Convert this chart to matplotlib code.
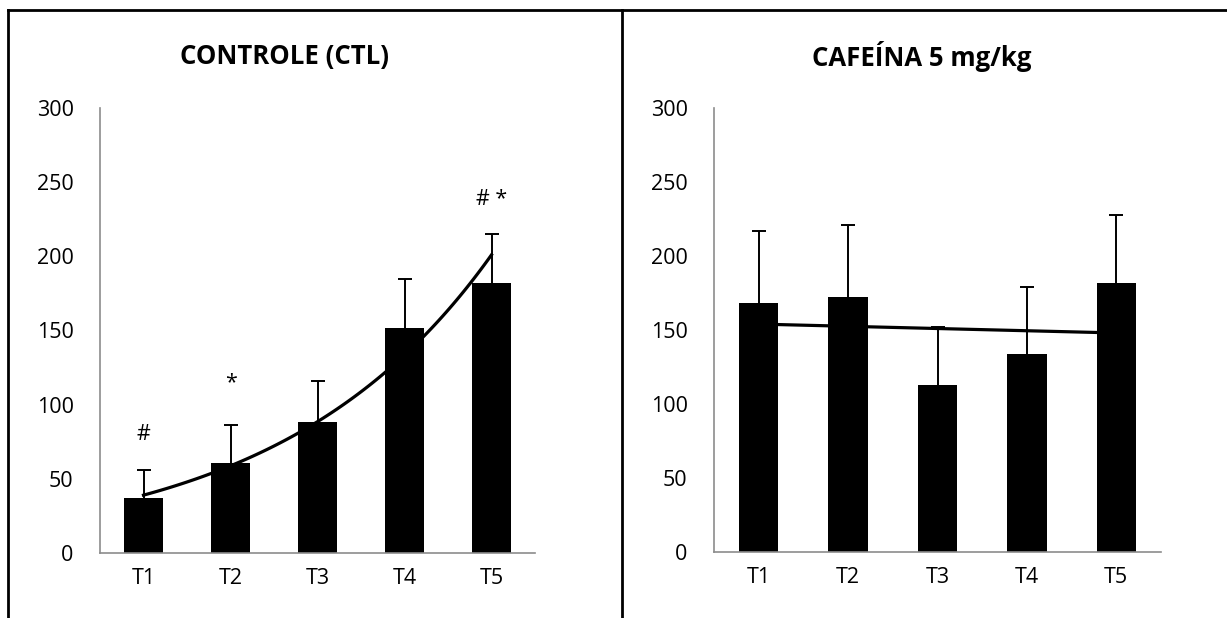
import matplotlib.pyplot as plt
import numpy as np
from matplotlib.lines import Line2D

plt.rcParams['font.family'] = ['Open Sans', 'DejaVu Sans']

times = ['T1', 'T2', 'T3', 'T4', 'T5']

# controle
ctl_mean = [37, 61, 88, 152, 182]
ctl_err = [19, 25, 28, 33, 33]
ctl_trend = (39, 201)  # exponential trendline at T1 and T5
ctl_marks = {0: '#', 1: '*', 4: '# *'}
ctl_mark_y = [80, 115, 238]

# cafeina 5 mg/kg
caf_mean = [168, 172, 113, 134, 182]
caf_err = [49, 49, 39, 45, 46]
caf_trend = (154, 148)  # linear trendline at T1 and T5

fig = plt.figure(figsize=(12.27, 6.18), dpi=100)


def panel(rect, title, title_x, mean, err):
    ax = fig.add_axes(rect)
    x = np.arange(len(times))
    ax.bar(x, mean, width=0.44, color='black', zorder=2)
    _, caps, _ = ax.errorbar(x, mean, yerr=[np.zeros(len(err)), err], fmt='none',
                             ecolor='black', elinewidth=1.4, capsize=5,
                             capthick=1.4, zorder=1)
    caps[0].set_visible(False)  # only the upper half of the bar is shown
    ax.set_xlim(-0.5, len(times) - 0.5)
    ax.set_ylim(0, 300)
    ax.set_yticks(range(0, 301, 50))
    ax.set_xticks(x)
    ax.set_xticklabels(times)
    for s in ['top', 'right']:
        ax.spines[s].set_visible(False)
    for s in ['left', 'bottom']:
        ax.spines[s].set_color('#8c8c8c')
        ax.spines[s].set_linewidth(1.2)
        ax.spines[s].set_zorder(3)
    ax.tick_params(axis='y', length=0, pad=19, labelsize=15.5)
    ax.tick_params(axis='x', length=0, pad=11, labelsize=15.5)
    fig.text(title_x, 0.908, title, ha='center', va='center',
             fontsize=18.5, fontweight='bold')
    return ax


ax1 = panel([100 / 1227, 65 / 618, 435 / 1227, 445 / 618],
            'CONTROLE (CTL)', 285 / 1227, ctl_mean, ctl_err)
xs = np.linspace(0, 4, 100)
b = np.log(ctl_trend[1] / ctl_trend[0]) / 4
ax1.plot(xs, ctl_trend[0] * np.exp(b * xs), color='black', lw=2.3, zorder=4)
for (i, m), yv in zip(ctl_marks.items(), ctl_mark_y):
    ax1.text(i, yv, m, ha='center', va='center', fontsize=15.5)

ax2 = panel([714 / 1227, 66 / 618, 447 / 1227, 444 / 618],
            'CAFEÍNA 5 mg/kg', 922 / 1227, caf_mean, caf_err)
ax2.plot([0, 4], caf_trend, color='black', lw=2.3, zorder=4)

# table borders around the two panels
for coords in [([8 / 1227, 1], [1 - 10 / 618, 1 - 10 / 618]),
               ([8 / 1227, 8 / 1227], [0, 1 - 10 / 618]),
               ([622 / 1227, 622 / 1227], [0, 1 - 10 / 618])]:
    fig.add_artist(Line2D(coords[0], coords[1], color='black', lw=2))

plt.savefig('out.png')
